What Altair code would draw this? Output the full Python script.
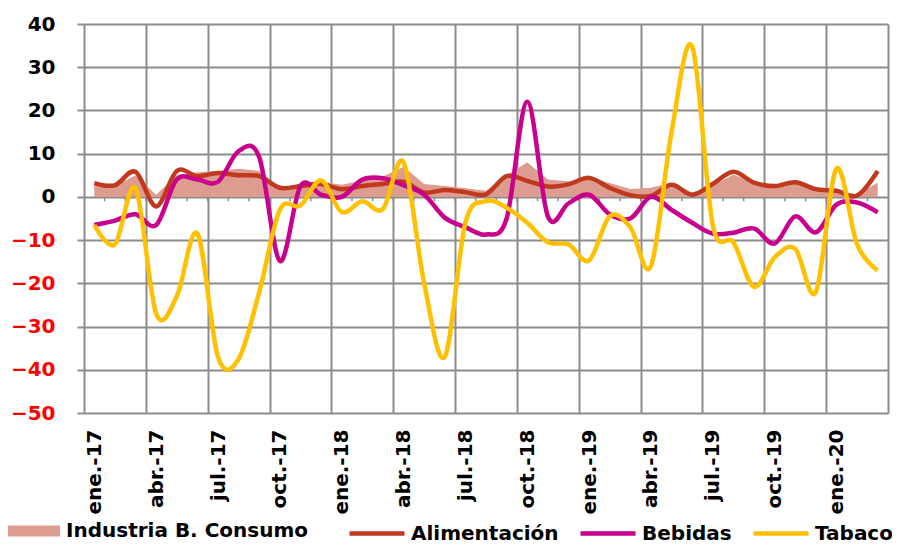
import json
import altair as alt
import pandas as pd

# ---- data ----
tick_labels = ["ene.-17", "abr.-17", "jul.-17", "oct.-17", "ene.-18", "abr.-18",
               "jul.-18", "oct.-18", "ene.-19", "abr.-19", "jul.-19", "oct.-19", "ene.-20"]

industria = [2.6, 2.5, 5.0, 0.5, 5.0, 5.7, 6.0, 6.5, 6.0, 2.0, 3.0, 3.5, 2.8,
             3.8, 4.7, 7.0, 3.0, 2.5, 2.0, 1.4, 5.0, 8.0, 4.0, 3.6, 4.5, 3.2,
             1.8, 2.1, 3.3, 1.0, 2.5, 5.2, 3.3, 2.5, 3.3, 1.8, 1.4, 0.6, 3.3]
alimentacion = [3.2, 2.7, 5.8, -2.2, 6.0, 4.8, 5.5, 5.0, 4.8, 2.1, 2.5, 3.0, 1.8,
                2.5, 3.0, 3.5, 1.0, 1.6, 1.1, 0.6, 4.8, 3.7, 2.4, 2.9, 4.4, 2.1,
                0.4, 0.2, 2.8, 0.5, 3.0, 5.8, 3.3, 2.5, 3.4, 1.8, 1.4, 0.3, 6.0]
bebidas = [-6.5, -5.5, -4.0, -6.5, 4.0, 4.0, 3.5, 10.6, 9.2, -14.8, 2.5, 0.5, 0.0,
           4.0, 4.3, 2.7, 0.5, -4.8, -7.0, -8.7, -5.0, 22.0, -4.5, -1.5, 0.5, -4.0,
           -5.0, 0.0, -3.0, -6.0, -8.5, -8.3, -7.3, -10.8, -4.5, -8.2, -1.8, -1.3, -3.6]
tabaco = [-6.5, -11.0, 2.0, -27.0, -23.0, -8.5, -37.0, -37.5, -22.0, -3.0, -2.0, 3.8, -3.5,
          -1.0, -2.8, 8.0, -20.0, -37.0, -6.0, -1.0, -2.5, -6.0, -10.5, -11.0, -14.7, -4.5,
          -7.0, -16.0, 15.0, 34.8, -6.5, -10.5, -20.8, -14.0, -12.0, -22.0, 6.5, -11.0, -17.0]

line_names = ["Alimentación", "Bebidas", "Tabaco"]
line_colors = ["#c0391e", "#c8008c", "#ffc000"]
area_name = "Industria B. Consumo"
area_color = "#dd9c90"

n = len(industria)
pos = [i + 0.5 for i in range(n)]

df_area = pd.DataFrame({"pos": pos, "valor": industria, "serie": area_name})
df_lines = pd.concat(
    [pd.DataFrame({"pos": pos, "valor": v, "serie": k})
     for k, v in zip(line_names, [alimentacion, bebidas, tabaco])],
    ignore_index=True)
df_ticks = pd.DataFrame({"b": list(range(1, n))})

label_vals = [i * 3 + 0.5 for i in range(len(tick_labels))]
grid_vals = list(range(0, n + 1, 3))
axis_vals = sorted(label_vals + grid_vals)
label_expr = ("datum.value % 1 === 0 ? '' : " + json.dumps(tick_labels, ensure_ascii=False)
              + "[floor(datum.value / 3)]")

FONT = "DejaVu Sans"
GRID = "#8c8c8c"

x_axis = alt.Axis(values=axis_vals, labelExpr=label_expr, labelAngle=-90,
                  labelOverlap=False, labelFlush=False, ticks=False, tickSize=0,
                  domain=False, grid=True, gridColor=GRID, gridWidth=2,
                  gridOpacity={"condition": {"test": "datum.value % 3 === 0", "value": 1}, "value": 0},
                  labelFont=FONT, labelFontSize=20, labelFontWeight="bold",
                  labelColor="black", labelPadding=16, title=None)
x_scale = alt.Scale(domain=[0, n], nice=False, zero=False)

y_axis = alt.Axis(values=list(range(-50, 41, 10)), grid=True, gridColor=GRID, gridWidth=2,
                  tickSize=7, tickColor=GRID, tickWidth=2, domain=False,
                  labelFont=FONT, labelFontSize=20, labelFontWeight="bold",
                  labelColor={"condition": {"test": "datum.value < 0", "value": "#ff0000"}, "value": "#000000"},
                  labelPadding=22, title=None)
y_scale = alt.Scale(domain=[-50, 40], nice=False)

area = alt.Chart(df_area).mark_area(interpolate="linear").encode(
    x=alt.X("pos:Q", scale=x_scale, axis=x_axis),
    y=alt.Y("valor:Q", scale=y_scale, axis=y_axis),
    fill=alt.Fill("serie:N",
                  scale=alt.Scale(domain=[area_name], range=[area_color]),
                  legend=alt.Legend(orient="none", legendX=-76, legendY=481,
                                    direction="horizontal", columns=1, padding=0,
                                    symbolType="M-1,-0.21H1V0.21H-1Z", symbolSize=2704,
                                    symbolStrokeWidth=0, labelOffset=6,
                                    labelFont=FONT, labelFontSize=20, labelFontWeight="bold",
                                    labelColor="black", labelLimit=500, title=None)),
)

ticks = alt.Chart(df_ticks).mark_rule(color=GRID, strokeWidth=1.5).encode(
    x=alt.X("b:Q", scale=x_scale, axis=x_axis),
    y=alt.datum(0),
    y2=alt.datum(-1.0),
)

lines = alt.Chart(df_lines).mark_line(interpolate="cardinal", tension=0, strokeWidth=4.5).encode(
    x=alt.X("pos:Q", scale=x_scale, axis=x_axis),
    y=alt.Y("valor:Q", scale=y_scale, axis=y_axis),
    stroke=alt.Stroke("serie:N",
                      scale=alt.Scale(domain=line_names, range=line_colors),
                      legend=alt.Legend(orient="none", legendX=263, legendY=479.5,
                                        direction="horizontal", columns=3, padding=0,
                                        symbolType="stroke", symbolSize=3025,
                                        symbolStrokeWidth=4.5, labelOffset=4, columnPadding=12,
                                        labelFont=FONT, labelFontSize=20, labelFontWeight="bold",
                                        labelColor="black", labelLimit=500, title=None)),
    order=alt.Order("serie:N"),
)

chart = alt.layer(area, ticks, lines).properties(
    width=804, height=389,
    autosize=alt.AutoSizeParams(type="none"),
    padding={"left": 76, "top": 16, "right": 4, "bottom": 130},
).configure_view(
    fill="#f4e1df", stroke="#a6a6a6", strokeWidth=2
).configure(background="white")

chart.save("out.html", embed_options={"renderer": "svg", "actions": False})
